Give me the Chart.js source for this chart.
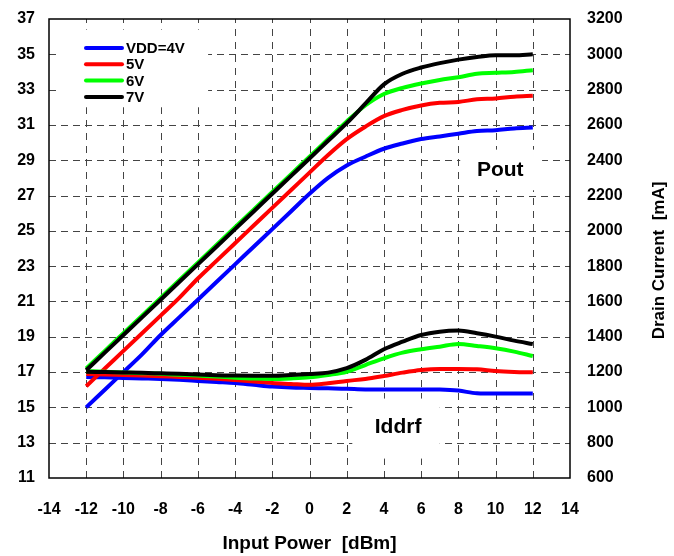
<!DOCTYPE html>
<html>
<head>
<meta charset="utf-8">
<script src="https://cdn.jsdelivr.net/npm/chart.js@4.4.1/dist/chart.umd.min.js"></script>
<style>
  html, body { margin: 0; padding: 0; background: #fff; }
  #wrap { width: 674px; height: 556px; }
</style>
</head>
<body>
<div id="wrap"><canvas id="c" width="674" height="556"></canvas></div>
<script>
// input power, dBm
const inputPower = [-12, -11, -10, -9, -8, -7, -6, -5, -4, -3, -2, -1, 0, 1, 2, 3, 4, 5, 6, 7, 8, 9, 10, 11, 12];

// output power, dBm (left axis)
const pout4V = [15.0, 16.0, 17.0, 18.0, 19.1, 20.1, 21.1, 22.1, 23.1, 24.1, 25.1, 26.1, 27.1, 28.0, 28.7, 29.2, 29.65, 29.95, 30.2, 30.35, 30.5, 30.65, 30.7, 30.8, 30.85];
const pout5V = [16.2, 17.2, 18.2, 19.2, 20.2, 21.2, 22.3, 23.3, 24.3, 25.3, 26.3, 27.3, 28.3, 29.3, 30.2, 30.9, 31.5, 31.85, 32.1, 32.25, 32.3, 32.45, 32.5, 32.6, 32.65];
const pout6V = [17.2, 18.2, 19.2, 20.2, 21.2, 22.2, 23.2, 24.2, 25.2, 26.2, 27.2, 28.2, 29.2, 30.2, 31.2, 32.1, 32.75, 33.1, 33.35, 33.55, 33.7, 33.9, 33.95, 34.0, 34.1];
const pout7V = [17.1, 18.1, 19.1, 20.1, 21.1, 22.1, 23.1, 24.1, 25.1, 26.1, 27.1, 28.1, 29.1, 30.1, 31.1, 32.2, 33.3, 33.9, 34.25, 34.5, 34.7, 34.85, 34.95, 34.95, 35.0];

// drain current, mA (right axis)
const idd4V = [1172, 1170, 1167, 1164, 1161, 1156, 1150, 1144, 1138, 1128, 1118, 1112, 1110, 1108, 1106, 1102, 1102, 1102, 1102, 1101, 1095, 1080, 1078, 1078, 1078];
const idd5V = [1189, 1186, 1183, 1180, 1177, 1172, 1168, 1162, 1155, 1147, 1138, 1133, 1128, 1137, 1150, 1161, 1178, 1197, 1212, 1218, 1218, 1216, 1206, 1201, 1199];
const idd6V = [1205, 1202, 1198, 1194, 1190, 1185, 1180, 1175, 1168, 1163, 1161, 1164, 1170, 1184, 1202, 1240, 1278, 1310, 1329, 1344, 1359, 1348, 1335, 1316, 1291];
const idd7V = [1202, 1200, 1198, 1196, 1193, 1190, 1186, 1182, 1180, 1179, 1179, 1183, 1189, 1197, 1222, 1269, 1329, 1372, 1410, 1429, 1435, 1420, 1401, 1378, 1359];

const seriesNames = ["VDD=4V", "5V", "6V", "7V"];
const seriesColors = ["#0000FF", "#FF0000", "#00FF00", "#000000"];

const FONT = "'Liberation Sans', Arial, sans-serif";

function pts(ys) {
    return ys.map((y, i) => ({ x: inputPower[i], y: y }));
}

function makeSet(label, ys, idx, axis) {
    return {
        label: label,
        data: pts(ys),
        yAxisID: axis,
        borderColor: seriesColors[idx],
        backgroundColor: seriesColors[idx],
        borderWidth: 4,
        pointRadius: 0,
        fill: false,
        cubicInterpolationMode: 'monotone',
        order: 3 - idx
    };
}

const datasets = [
    makeSet(seriesNames[0], pout4V, 0, 'y'),
    makeSet(seriesNames[1], pout5V, 1, 'y'),
    makeSet(seriesNames[2], pout6V, 2, 'y'),
    makeSet(seriesNames[3], pout7V, 3, 'y'),
    makeSet(seriesNames[0], idd4V, 0, 'y1'),
    makeSet(seriesNames[1], idd5V, 1, 'y1'),
    makeSet(seriesNames[2], idd6V, 2, 'y1'),
    makeSet(seriesNames[3], idd7V, 3, 'y1')
];

// white patches behind the legend and the two labels, in axis units [x0, x1, yTop, yBottom]
const patches = [
    [-13.5, -5.45, 36.4, 32.0],
    [8.1, 12.5, 29.6, 27.3],
    [2.3, 7.0, 15.5, 12.1]
];

// dashed grid under the lines
const dashedGrid = {
    id: 'dashedGrid',
    beforeDatasetsDraw(chart) {
        const ctx = chart.ctx;
        const a = chart.chartArea;
        const xs = chart.scales.x, ys = chart.scales.y;
        ctx.save();
        ctx.strokeStyle = '#444';
        ctx.lineWidth = 1;
        ctx.setLineDash([7, 5]);
        ys.ticks.forEach(t => {
            const y = Math.round(ys.getPixelForValue(t.value)) + 0.5;
            if (y <= a.top + 1 || y >= a.bottom - 1) return;
            ctx.beginPath();
            ctx.moveTo(a.left, y);
            ctx.lineTo(a.right, y);
            ctx.stroke();
        });
        ctx.setLineDash([7, 6]);
        xs.ticks.forEach(t => {
            const x = Math.round(xs.getPixelForValue(t.value)) + 0.5;
            if (x <= a.left + 1 || x >= a.right - 1) return;
            ctx.beginPath();
            ctx.moveTo(x, a.bottom);
            ctx.lineTo(x, a.top);
            ctx.stroke();
        });
        ctx.setLineDash([]);
        ctx.fillStyle = '#fff';
        patches.forEach(p => {
            const x0 = xs.getPixelForValue(p[0]), x1 = xs.getPixelForValue(p[1]);
            const y0 = ys.getPixelForValue(p[2]), y1 = ys.getPixelForValue(p[3]);
            ctx.fillRect(x0, y0, x1 - x0, y1 - y0);
        });
        ctx.restore();
    }
};

// frame, legend, in-plot labels and the right axis title
const extras = {
    id: 'extras',
    afterDatasetsDraw(chart) {
        const ctx = chart.ctx;
        const a = chart.chartArea;
        ctx.save();
        ctx.strokeStyle = '#000';
        ctx.lineWidth = 1.5;
        ctx.strokeRect(a.left, a.top, a.right - a.left, a.bottom - a.top);

        // legend
        ctx.font = 'bold 15px ' + FONT;
        ctx.textBaseline = 'middle';
        ctx.textAlign = 'left';
        for (let i = 0; i < seriesNames.length; i++) {
            const y = a.top + 29 + i * 16.3;
            ctx.strokeStyle = seriesColors[i];
            ctx.lineWidth = 4;
            ctx.lineCap = 'round';
            ctx.beginPath();
            ctx.moveTo(a.left + 37, y);
            ctx.lineTo(a.left + 73, y);
            ctx.stroke();
            ctx.fillStyle = '#000';
            ctx.fillText(seriesNames[i], a.left + 77, y + 1);
        }

        ctx.font = 'bold 21px ' + FONT;
        ctx.textAlign = 'center';
        const xs = chart.scales.x, ys = chart.scales.y;
        ctx.fillText('Pout', xs.getPixelForValue(10.25), ys.getPixelForValue(28.45));
        ctx.fillText('Iddrf', xs.getPixelForValue(4.76), ys.getPixelForValue(13.9));

        // right axis title reads bottom to top
        ctx.font = 'bold 17px ' + FONT;
        ctx.translate(659, (a.top + a.bottom) / 2 + 12);
        ctx.rotate(-Math.PI / 2);
        ctx.fillText('Drain Current  [mA]', 0, 0);
        ctx.restore();
    }
};

const tickFont = { family: FONT, size: 16, weight: 'bold' };

function fitVertical(w) {
    return s => { s.width = w; s.paddingTop = 0; s.paddingBottom = 0; };
}

new Chart(document.getElementById('c').getContext('2d'), {
    type: 'line',
    data: { datasets: datasets },
    options: {
        responsive: false,
        animation: false,
        layout: { padding: { top: 19, left: 0, right: 0, bottom: 0 } },
        plugins: {
            legend: { display: false },
            title: { display: false },
            tooltip: { enabled: false }
        },
        scales: {
            x: {
                type: 'linear',
                min: -14,
                max: 14,
                ticks: { stepSize: 2, padding: 22, color: '#000', font: tickFont },
                grid: { display: false, drawTicks: false },
                border: { display: false },
                title: {
                    display: true,
                    text: 'Input Power  [dBm]',
                    color: '#000',
                    font: { family: FONT, size: 19, weight: 'bold' },
                    padding: { top: 4, bottom: 1 }
                },
                afterFit(s) { s.height = 78; s.paddingLeft = 0; s.paddingRight = 0; }
            },
            y: {
                type: 'linear',
                position: 'left',
                min: 11,
                max: 37,
                ticks: { stepSize: 2, padding: 14, color: '#000', font: tickFont },
                grid: { display: false, drawTicks: false },
                border: { display: false },
                afterFit: fitVertical(49)
            },
            y1: {
                type: 'linear',
                position: 'right',
                min: 600,
                max: 3200,
                ticks: { stepSize: 200, padding: 17, color: '#000', font: tickFont, callback: v => String(v) },
                grid: { display: false, drawTicks: false },
                border: { display: false },
                afterFit: fitVertical(104)
            }
        }
    },
    plugins: [dashedGrid, extras]
});
</script>
</body>
</html>
